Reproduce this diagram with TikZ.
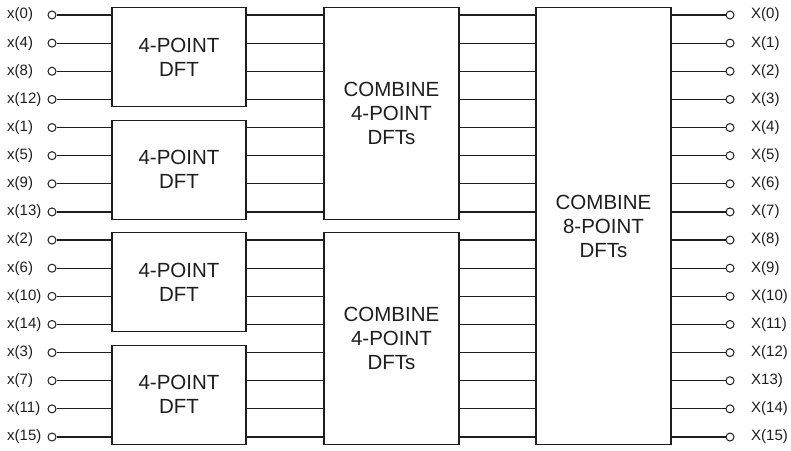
\documentclass[tikz,border=0pt]{standalone}
\usepackage{fontspec}
\setmainfont{Liberation Sans}
\usepackage{xcolor}
\definecolor{ink}{HTML}{1E1E1E}
\usepackage{tikz}
\usetikzlibrary{positioning,calc}
\tikzset{
  wire/.style={draw=ink,line width=1.2pt},
  blk/.style={draw=ink,line width=1.2pt,fill=white,align=center,inner sep=0pt,text=ink,
              font=\fontsize{20.5}{24}\selectfont},
  dft/.style={blk,minimum width=134pt,minimum height=99pt},
  cmb/.style={blk,minimum width=135pt,minimum height=212pt},
  cmbbig/.style={blk,minimum width=135pt,minimum height=437pt},
  pin/.style={circle,draw=ink,line width=1pt,fill=white,inner sep=0pt,minimum size=8pt},
  sig/.style={font=\fontsize{15}{18}\selectfont,text=ink,inner sep=0pt,anchor=west},
}

\begin{document}
\begin{tikzpicture}[x=1pt,y=-1pt]
  \useasboundingbox (0,0) rectangle (791,450);

  \node[dft] (dft0) at (179,57.2) {4-POINT\\DFT};
  \node[dft] (dft1) at (179,169.7) {4-POINT\\DFT};
  \node[dft] (dft2) at (179,282.3) {4-POINT\\DFT};
  \node[dft] (dft3) at (179,394.8) {4-POINT\\DFT};

  \node[cmb] (cmb0) at (391.5,113.5) {COMBINE\\4-POINT\\DFTs};
  \node[cmb] (cmb1) at (391.5,338.5) {COMBINE\\4-POINT\\DFTs};

  \node[cmbbig] (cmbz) at (603.5,226) {COMBINE\\8-POINT\\DFTs};

  \foreach \k in {0,...,15}{
    \pgfmathtruncatemacro\n{4*mod(\k,4)+div(\k,4)}
    \pgfmathtruncatemacro\b{div(\k,4)}
    \pgfmathtruncatemacro\c{div(\k,8)}
    \coordinate (r\k) at (0,{15+28.133*\k});
    \node[pin] (in\k) at (52,{15+28.133*\k}) {};
    \node[sig] (lin\k) at (7,{15+28.133*\k}) {x(\n)};
    \node[pin] (out\k) at (730,{15+28.133*\k}) {};
    \node[sig] (lout\k) at (751,{15+28.133*\k}) {\ifnum\k=13 X13)\else X(\k)\fi};
    \draw[wire] (in\k) -- (in\k -| dft\b.west);
    \draw[wire] (r\k -| dft\b.east) -- (r\k -| cmb\c.west);
    \draw[wire] (r\k -| cmb\c.east) -- (r\k -| cmbz.west);
    \draw[wire] (r\k -| cmbz.east) -- (out\k);
  }
\end{tikzpicture}
\end{document}
